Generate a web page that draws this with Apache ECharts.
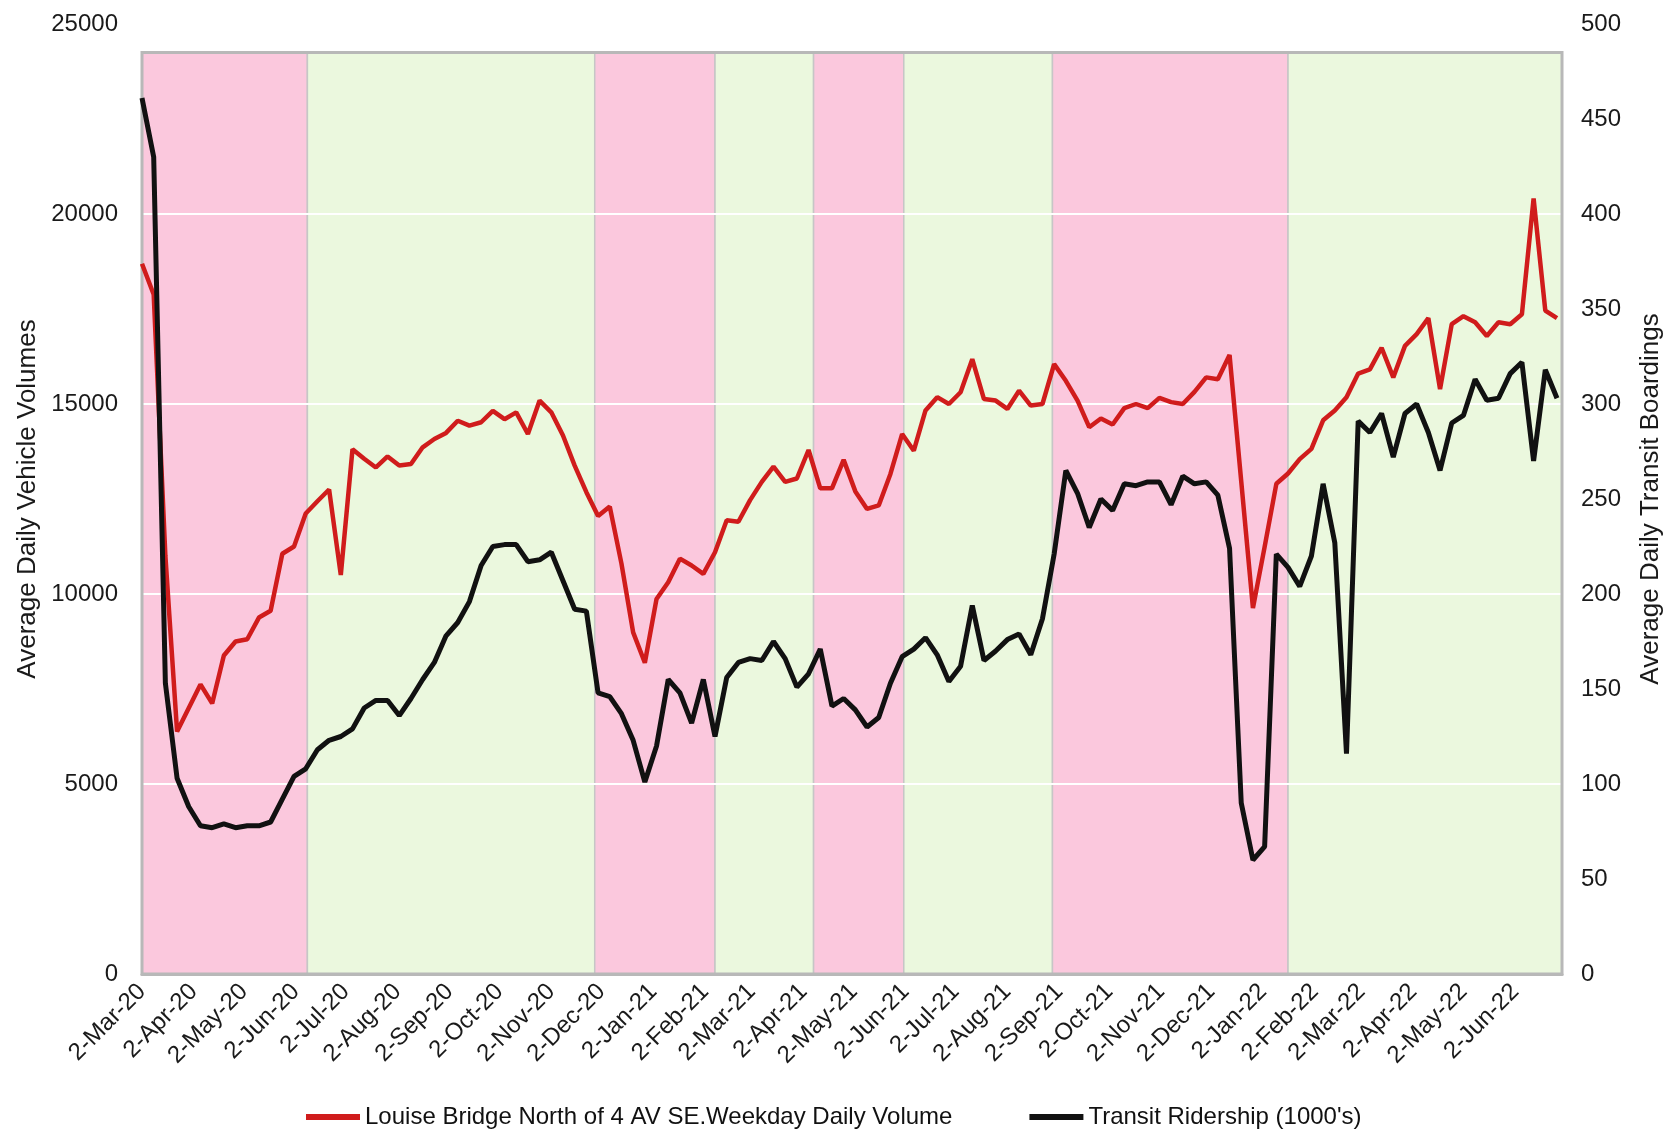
<!DOCTYPE html>
<html>
<head>
<meta charset="utf-8">
<script src="https://cdn.jsdelivr.net/npm/echarts@6/dist/echarts.min.js"></script>
<style>
html,body{margin:0;padding:0;background:#ffffff;}
#chart{width:1672px;height:1131px;}
</style>
</head>
<body>
<div id="chart"></div>
<script>
// ---- data (weekly, starting 2-Mar-20) ----
const firstWeek = '2020-03-02';
const vehicleVolumes = [
  18690, 17880, 11000, 6380, 7000, 7620, 7120, 8380, 8750, 8810,
  9380, 9560, 11060, 11250, 12120, 12440, 12750, 10500, 13810, 13560,
  13330, 13620, 13380, 13420, 13860, 14080, 14240, 14560, 14430, 14520,
  14820, 14600, 14780, 14210, 15090, 14780, 14170, 13380, 12680, 12050,
  12300, 10800, 8990, 8190, 9870, 10310, 10930, 10750, 10530, 11100,
  11940, 11900, 12470, 12950, 13350, 12950, 13040, 13790, 12780, 12780,
  13530, 12700, 12240, 12330, 13160, 14210, 13770, 14830, 15180, 15000,
  15310, 16180, 15130, 15090, 14870, 15350, 14960, 15000, 16050, 15610,
  15090, 14390, 14620, 14460, 14890, 15000, 14890, 15160, 15050, 15000,
  15320, 15700, 15650, 16290, 12960, 9630, 11240, 12900, 13170, 13550,
  13820, 14570, 14830, 15180, 15800, 15910, 16480, 15700, 16530, 16840,
  17260, 15390, 17100, 17310, 17150, 16790, 17150, 17100, 17360, 20410,
  17460, 17260
];
const transitRidership = [
  461, 430, 153, 103, 88, 78, 77, 79, 77, 78,
  78, 80, 92, 104, 108, 118, 123, 125, 129, 140,
  144, 144, 136, 145, 155, 164, 178, 185, 196, 215,
  225, 226, 226, 217, 218, 222, 207, 192, 191, 148,
  146, 137, 123, 101, 120, 155, 148, 132, 155, 125,
  156, 164, 166, 165, 175, 166, 151, 158, 171, 141,
  145, 139, 130, 135, 153, 167, 171, 177, 168, 154,
  162, 194, 165, 170, 176, 179, 168, 187, 221, 265,
  253, 235, 250, 244, 258, 257, 259, 259, 247, 262,
  258, 259, 252, 224, 90, 60, 67, 221, 214, 204,
  220, 258, 227, 116, 291, 285, 295, 272, 295, 300,
  285, 265, 290, 294, 313, 302, 303, 316, 322, 270,
  318, 303
];
const monthTickLabels = [
  '2-Mar-20','2-Apr-20','2-May-20','2-Jun-20','2-Jul-20','2-Aug-20','2-Sep-20',
  '2-Oct-20','2-Nov-20','2-Dec-20','2-Jan-21','2-Feb-21','2-Mar-21','2-Apr-21',
  '2-May-21','2-Jun-21','2-Jul-21','2-Aug-21','2-Sep-21','2-Oct-21','2-Nov-21',
  '2-Dec-21','2-Jan-22','2-Feb-22','2-Mar-22','2-Apr-22','2-May-22','2-Jun-22'
];
const axisEndDate = '2022-06-30';
const periodStarts = ['2020-03-02','2020-06-09','2020-11-28','2021-02-08','2021-04-08','2021-06-01','2021-08-29','2022-01-17'];
const periodEnds   = ['2020-06-09','2020-11-28','2021-02-08','2021-04-08','2021-06-01','2021-08-29','2022-01-17','2022-06-30'];
const periodTypes  = ['restricted','open','restricted','open','restricted','open','restricted','open'];
const seriesNames = ['Louise Bridge North of 4 AV SE.Weekday Daily Volume', "Transit Ridership (1000's)"];

// ---- helpers ----
const DAY = 86400000;
function toUTC(s){ const p = s.split('-').map(Number); return Date.UTC(p[0], p[1]-1, p[2]); }
const t0 = toUTC(firstWeek);
function dayOf(s){ return Math.round((toUTC(s) - t0) / DAY); }
const MON = {Jan:1,Feb:2,Mar:3,Apr:4,May:5,Jun:6,Jul:7,Aug:8,Sep:9,Oct:10,Nov:11,Dec:12};
function labelDay(l){ const p = l.split('-'); return dayOf((2000+Number(p[2])) + '-' + MON[p[1]] + '-' + p[0]); }
const tickDays = monthTickLabels.map(labelDay);
const labelByDay = {};
tickDays.forEach((d,i)=>{ labelByDay[d] = monthTickLabels[i]; });
const xMax = dayOf(axisEndDate);

const bandColor = {restricted:'#fbc8dd', open:'#ebf8de'};
const bandData = periodStarts.map((s,i)=>[
  {xAxis: dayOf(s), yAxis: 0, itemStyle:{color: bandColor[periodTypes[i]], borderColor:'#c6c6c6', borderWidth:1.5}},
  {xAxis: dayOf(periodEnds[i]), yAxis: 24250}
]);

const FONT = 'Liberation Sans, Arial, sans-serif';
const chart = echarts.init(document.getElementById('chart'), null, {renderer:'canvas'});
chart.setOption({
  animation: false,
  backgroundColor: '#ffffff',
  textStyle: {fontFamily: FONT},
  grid: {left: 142, right: 102, top: 24, bottom: 157, containLabel: false},
  legend: {
    data: seriesNames,
    left: 306, top: 1105, padding: 0,
    icon: 'rect', itemWidth: 54, itemHeight: 6, itemGap: 77,
    textStyle: {fontSize: 24, color: '#111', fontFamily: FONT}
  },
  xAxis: {
    type: 'value', min: 0, max: xMax,
    axisLine: {show: true, lineStyle: {color: '#b8b8b8', width: 3}},
    axisTick: {show: false},
    splitLine: {show: false},
    axisLabel: {
      customValues: tickDays,
      rotate: 45, fontSize: 24, color: '#1a1a1a', margin: 14, fontFamily: FONT,
      formatter: v => labelByDay[Math.round(v)] || ''
    }
  },
  yAxis: [
    {
      type: 'value', min: 0, max: 25000, interval: 5000, position: 'left',
      axisLine: {show: false}, axisTick: {show: false},
      splitLine: {show: true, lineStyle: {color: '#ffffff', width: 2}},
      axisLabel: {fontSize: 24, color: '#1a1a1a', margin: 24, fontFamily: FONT, formatter: v => String(v)},
      name: 'Average Daily Vehicle Volumes', nameLocation: 'middle', nameRotate: 90, nameGap: 93,
      nameTextStyle: {fontSize: 26, color: '#1a1a1a', fontFamily: FONT}
    },
    {
      type: 'value', min: 0, max: 500, interval: 50, position: 'right',
      axisLine: {show: false}, axisTick: {show: false},
      splitLine: {show: false},
      axisLabel: {fontSize: 24, color: '#1a1a1a', margin: 19, fontFamily: FONT, padding: [0, 0, 12, 0], formatter: v => String(v)},
      name: 'Average Daily Transit Boardings', nameLocation: 'middle', nameRotate: 90, nameGap: 76,
      nameTextStyle: {fontSize: 26, color: '#1a1a1a', fontFamily: FONT}
    }
  ],
  series: [
    {
      name: 'bands', type: 'line', data: [], silent: true, yAxisIndex: 0,
      markArea: {silent: true, z: -1, data: bandData}
    },
    {
      name: 'frame', type: 'line', data: [], silent: true, yAxisIndex: 0,
      markArea: {silent: true, data: [[
        {xAxis: 0, yAxis: 0, itemStyle: {color: 'rgba(0,0,0,0)', borderColor: '#b8b8b8', borderWidth: 3}},
        {xAxis: xMax, yAxis: 24250}
      ]]}
    },
    {
      name: seriesNames[0], type: 'line', yAxisIndex: 0,
      data: vehicleVolumes.map((v,k)=>[7*k, v]),
      showSymbol: false, symbol: 'none',
      color: '#d01c1c',
      lineStyle: {color: '#d01c1c', width: 4.5}
    },
    {
      name: seriesNames[1], type: 'line', yAxisIndex: 1,
      data: transitRidership.map((v,k)=>[7*k, v]),
      showSymbol: false, symbol: 'none',
      color: '#111111',
      lineStyle: {color: '#111111', width: 5}
    }
  ]
});
</script>
</body>
</html>
